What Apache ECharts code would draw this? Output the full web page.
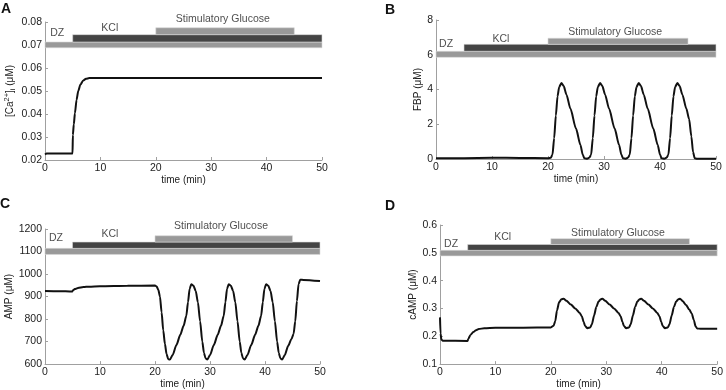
<!DOCTYPE html>
<html>
<head>
<meta charset="utf-8">
<script src="https://cdn.jsdelivr.net/npm/echarts@6/dist/echarts.min.js"></script>
<style>
  html, body { margin: 0; padding: 0; background: #fff; }
  #main { width: 726px; height: 390px; }
</style>
</head>
<body>
<div id="main"></div>
<script>
// panel A: [Ca2+]i
var caT = [0, 0.3, 2.5, 4.97, 5.03, 5.2, 5.4, 5.7, 6.0, 6.4, 6.9, 7.4, 8.0, 9.0, 10, 20, 30, 40, 50]
var caV = [0.0224, 0.0228, 0.0228, 0.0228, 0.0309, 0.0355, 0.0403, 0.0462, 0.050, 0.0528, 0.0546, 0.0553, 0.0556, 0.0557, 0.0557, 0.0557, 0.0557, 0.0557, 0.0557]

// panel B: FBP
var fbpT = [0, 5, 10, 15, 20, 20.5, 20.8, 21.1, 21.4, 21.7, 22.0, 22.4, 22.8, 23.3, 24.0, 25.0, 25.8, 26.2, 26.5, 27.0, 27.4,
  27.7, 28.0, 28.3, 28.6, 28.9, 29.3, 29.7, 30.2, 30.9, 31.9, 32.7, 33.1, 33.4, 33.9, 34.3,
  34.6, 34.9, 35.2, 35.5, 35.8, 36.2, 36.6, 37.1, 37.8, 38.8, 39.6, 40.0, 40.3, 40.8, 41.2,
  41.5, 41.8, 42.1, 42.4, 42.7, 43.1, 43.5, 44.0, 44.7, 45.2, 45.6, 45.9, 46.2, 46.6, 50]
var fbpV = [0.04, 0.05, 0.07, 0.06, 0.05, 0.07, 0.25, 1.2, 2.5, 3.6, 4.15, 4.37, 4.2, 3.7, 2.9, 1.75, 0.8, 0.25, 0.04, 0.02, 0.08,
  0.25, 1.2, 2.5, 3.6, 4.15, 4.37, 4.2, 3.7, 2.9, 1.75, 0.8, 0.25, 0.04, 0.02, 0.08,
  0.25, 1.2, 2.5, 3.6, 4.15, 4.37, 4.2, 3.7, 2.9, 1.75, 0.8, 0.25, 0.04, 0.02, 0.08,
  0.25, 1.2, 2.5, 3.6, 4.15, 4.37, 4.2, 3.7, 2.9, 2.3, 1.3, 0.4, 0.04, 0.01, 0.01]

// panel C: AMP
var ampT = [0, 2.5, 4.95, 5.1, 5.4, 6, 7, 8, 10, 15, 20, 20.3, 20.6, 20.9, 21.2, 21.5, 21.8, 22.1, 22.4, 22.7, 23.2, 23.9, 24.6, 25.2, 25.7, 26.0, 26.3, 26.6,
  27.0, 27.4, 27.8, 28.2, 28.6, 28.9, 29.2, 29.5, 30.0, 30.7, 31.4, 32.0, 32.5, 32.8, 33.1, 33.4,
  33.8, 34.2, 34.6, 35.0, 35.4, 35.7, 36.0, 36.3, 36.8, 37.5, 38.2, 38.8, 39.3, 39.6, 39.9, 40.2,
  40.6, 41.0, 41.4, 41.8, 42.2, 42.5, 42.8, 43.1, 43.6, 44.2, 44.8, 45.2, 45.5, 45.8, 46.1, 46.4, 47, 50]
var ampV = [925, 924, 922, 928, 933, 938, 942, 944, 946, 948, 949, 945, 930, 900, 830, 750, 690, 645, 622, 620, 640, 685, 730, 770, 815, 875, 935, 955,
  948, 925, 875, 790, 700, 650, 625, 620, 640, 685, 730, 770, 815, 875, 935, 955,
  948, 925, 875, 790, 700, 650, 625, 620, 640, 685, 730, 770, 815, 875, 935, 955,
  948, 925, 875, 790, 700, 650, 625, 620, 640, 680, 710, 735, 790, 880, 955, 975, 974, 969]

// panel D: cAMP
var campT = [0, 0.1, 0.25, 0.5, 4.97, 5.1, 5.5, 6, 6.5, 7, 8, 10, 15, 20, 20.5, 20.8, 21.1, 21.5, 21.9, 22.3, 22.8, 23.6, 24.4, 25.2, 25.6, 25.9, 26.2, 26.6, 27.1, 27.4,
  27.8, 28.2, 28.6, 29.0, 29.3, 29.8, 30.6, 31.4, 32.2, 32.6, 32.9, 33.2, 33.6, 34.1, 34.4,
  34.8, 35.2, 35.6, 36.0, 36.3, 36.8, 37.6, 38.4, 39.2, 39.6, 39.9, 40.2, 40.6, 41.1, 41.4,
  41.8, 42.2, 42.6, 43.0, 43.3, 43.8, 44.4, 45.0, 45.4, 45.8, 46.1, 46.4, 47, 50]
var campV = [0.268, 0.21, 0.188, 0.184, 0.183, 0.19, 0.205, 0.215, 0.222, 0.226, 0.229, 0.231, 0.231, 0.232, 0.238, 0.255, 0.293, 0.323, 0.333, 0.335, 0.328, 0.314, 0.300, 0.284, 0.272, 0.252, 0.236, 0.229, 0.232, 0.243,
  0.275, 0.305, 0.325, 0.333, 0.335, 0.328, 0.314, 0.300, 0.284, 0.272, 0.252, 0.236, 0.229, 0.232, 0.243,
  0.275, 0.305, 0.325, 0.333, 0.335, 0.328, 0.314, 0.300, 0.284, 0.272, 0.252, 0.236, 0.229, 0.232, 0.243,
  0.275, 0.305, 0.325, 0.333, 0.335, 0.326, 0.312, 0.295, 0.282, 0.258, 0.236, 0.228, 0.227, 0.227]

// protocol bars: [from, to, yLow, yHigh] per panel -> DZ (full), KCl, Stimulatory Glucose
var barsA = [[0, 50, 0.0688, 0.0713], [5, 50, 0.0713, 0.0745], [20, 45, 0.0745, 0.0775]]
var barsB = [[0, 50, 5.85, 6.2], [5, 50, 6.2, 6.6], [20, 45, 6.6, 6.95]]
var barsC = [[0, 50, 1087, 1114], [5, 50, 1114, 1142], [20, 45, 1142, 1170]]
var barsD = [[0, 50, 0.489, 0.509], [5, 50, 0.509, 0.530], [20, 45, 0.530, 0.551]]

// bar labels: [x, y, text]
var labelsA = [[2.2, 0.0752, 'DZ'], [11.7, 0.0772, 'KCl'], [32.1, 0.0811, 'Stimulatory Glucose']]
var labelsB = [[1.8, 6.62, 'DZ'], [11.6, 6.92, 'KCl'], [32, 7.32, 'Stimulatory Glucose']]
var labelsC = [[2.0, 1161, 'DZ'], [11.8, 1176, 'KCl'], [32, 1211, 'Stimulatory Glucose']]
var labelsD = [[2.0, 0.533, 'DZ'], [11.3, 0.555, 'KCl'], [32.1, 0.570, 'Stimulatory Glucose']]

var barColors = ['#999999', '#444444', '#999999']
var font = 'Liberation Sans, Arial, sans-serif'
var fs = 10

function zip(t, v) {
  return t.map(function (x, i) { return [x, v[i]] })
}

function markBars(bars) {
  return {
    silent: true,
    data: bars.map(function (b, i) {
      return [
        { coord: [b[0], b[2]], itemStyle: { color: barColors[i], borderColor: '#d8d8d8', borderWidth: 0.6 } },
        { coord: [b[1], b[3]] },
      ]
    }),
  }
}

var grids = [
  { left: 45, top: 22, width: 277, height: 138 },
  { left: 436, top: 20, width: 280, height: 139 },
  { left: 45, top: 229, width: 275, height: 138 },
  { left: 440, top: 225, width: 280, height: 142 },
]

var yCfg = [
  { min: 0.02, max: 0.08, interval: 0.01, dec: 2, name: '[Ca{sup|2+}]{sub|i} (μM)', gap: 28 },
  { min: 0, max: 8, interval: 2, dec: 0, name: 'FBP (μM)', gap: 9 },
  { min: 600, max: 1200, interval: 100, dec: 0, name: 'AMP (μM)', gap: 29 },
  { min: 0.1, max: 0.6, interval: 0.1, dec: 1, name: 'cAMP (μM)', gap: 15 },
]

var lines = [zip(caT, caV), zip(fbpT, fbpV), zip(ampT, ampV), zip(campT, campV)]
var bars = [barsA, barsB, barsC, barsD]
var labels = [labelsA, labelsB, labelsC, labelsD]

var axisLine = { show: true, lineStyle: { color: '#a0a0a0', width: 1 } }
var axisTick = { show: true, inside: true, length: 3, lineStyle: { color: '#a0a0a0' } }

var xAxis = grids.map(function (g, i) {
  return {
    type: 'value', gridIndex: i, min: 0, max: 50, interval: 10,
    axisLine: axisLine, axisTick: axisTick, splitLine: { show: false },
    axisLabel: { color: '#222', fontSize: fs + 0.5, fontFamily: font, margin: 3 },
    name: 'time (min)', nameLocation: 'middle', nameGap: 13,
    nameTextStyle: { color: '#222', fontSize: fs, fontFamily: font },
  }
})

var yAxis = yCfg.map(function (c, i) {
  return {
    type: 'value', gridIndex: i, min: c.min, max: c.max, interval: c.interval,
    axisLine: axisLine, axisTick: axisTick, splitLine: { show: false },
    axisLabel: {
      color: '#222', fontSize: fs + 0.5, fontFamily: font, margin: 3,
      formatter: function (v) { return v.toFixed(c.dec) },
    },
    name: c.name, nameLocation: 'middle', nameGap: c.gap, nameRotate: 90,
    nameTextStyle: {
      color: '#222', fontSize: fs, fontFamily: font,
      rich: {
        sup: { fontSize: 7.5, fontFamily: font, color: '#222', padding: [0, 0, 6, 0] },
        sub: { fontSize: 7.5, fontFamily: font, color: '#222', padding: [6, 0, 0, 0] },
      },
    },
  }
})

var series = []
lines.forEach(function (d, i) {
  series.push({
    type: 'line', xAxisIndex: i, yAxisIndex: i, data: d,
    showSymbol: false, symbol: 'none', smooth: 0.25, smoothMonotone: 'x',
    lineStyle: { color: '#111', width: 2 },
    markArea: markBars(bars[i]),
    silent: true, z: 3,
  })
  series.push({
    type: 'scatter', xAxisIndex: i, yAxisIndex: i, data: labels[i],
    symbolSize: 1, itemStyle: { color: 'rgba(0,0,0,0)' }, clip: false, silent: true, z: 4,
    label: {
      show: true, position: 'inside', color: '#222', fontSize: fs + 0.5, fontFamily: font,
      formatter: function (p) { return p.value[2] },
    },
  })
})

var letters = [['A', 1, 2], ['B', 385, 3], ['C', 0, 197], ['D', 385, 199]]

var chart = echarts.init(document.getElementById('main'))
chart.setOption({
  animation: false,
  backgroundColor: '#fff',
  title: letters.map(function (l) {
    return { text: l[0], left: l[1], top: l[2], padding: 0, textStyle: { fontSize: 14, fontWeight: 'bold', color: '#111', fontFamily: font } }
  }),
  grid: grids,
  xAxis: xAxis,
  yAxis: yAxis,
  series: series,
})
</script>
</body>
</html>
